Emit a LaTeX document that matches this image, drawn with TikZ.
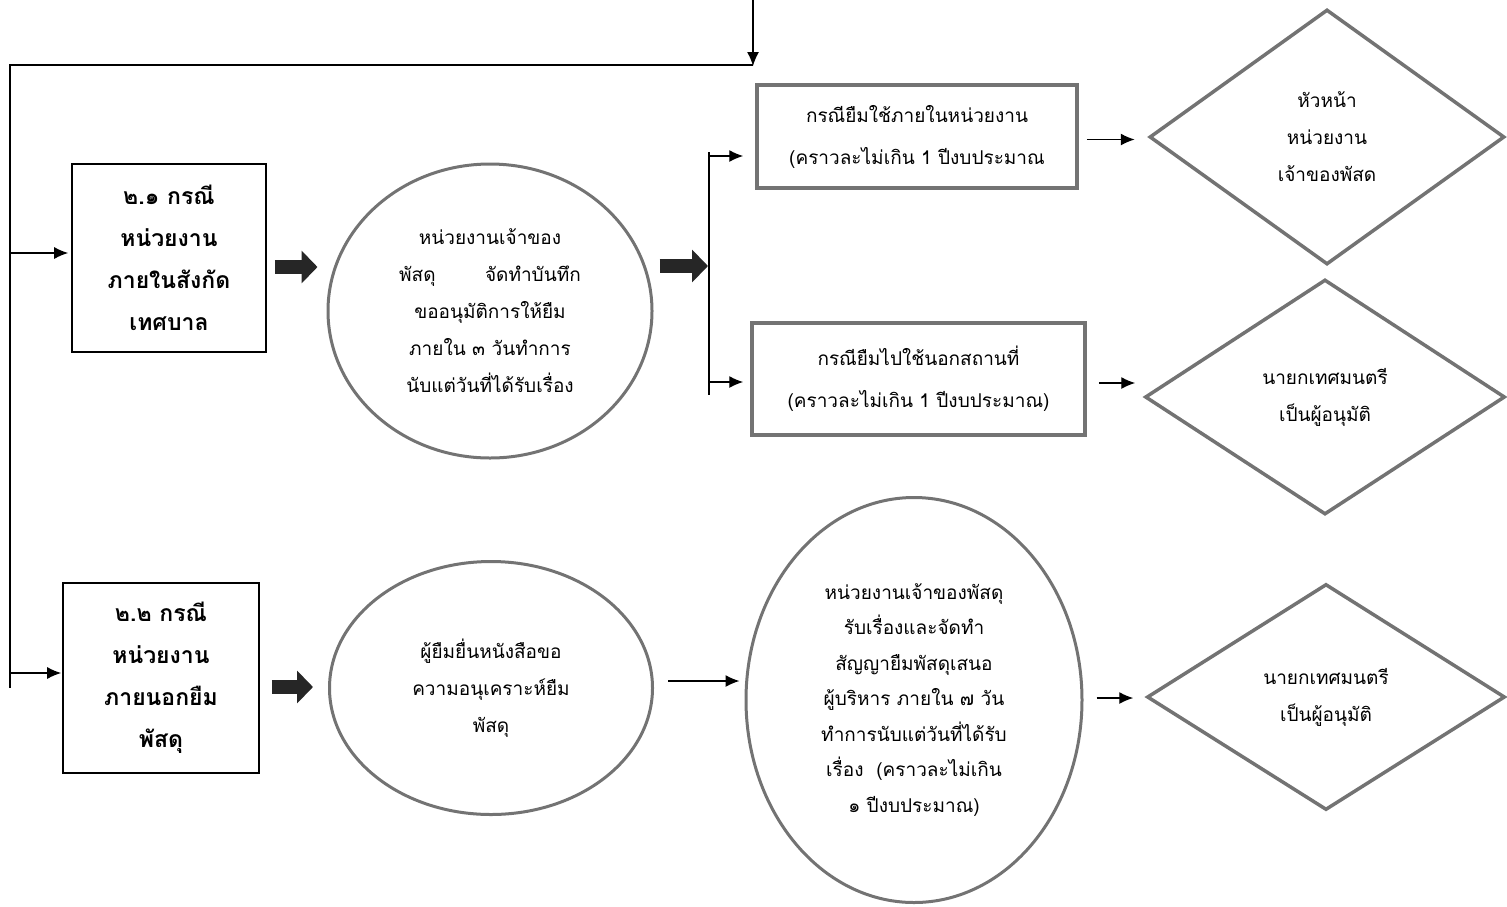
\documentclass[tikz,border=0pt]{standalone}
\usepackage{fontspec}
\newfontfamily\thaifont[Script=Thai]{Loma}
\usetikzlibrary{arrows.meta,shapes.geometric,positioning}

\tikzset{
  casebox/.style={draw,line width=1.6pt,inner sep=0pt,align=center,
    font=\thaifont\bfseries\fontsize{23}{42}\selectfont},
  stepoval/.style={ellipse,draw=black!55,line width=3pt,inner sep=0pt,align=center,
    font=\thaifont\fontsize{19}{37}\selectfont},
  notebox/.style={draw=black!55,line width=3.5pt,inner sep=0pt,align=center,
    font=\thaifont\fontsize{19}{42}\selectfont},
  approve/.style={diamond,draw=black!55,line width=3.5pt,inner sep=0pt,aspect=1.4,align=center,
    font=\thaifont\fontsize{19}{37}\selectfont},
  thinarrow/.style={line width=1.3pt,-{Latex[length=14pt,width=12pt]}},
  fatarrow/.style={line width=14pt,black!85,-{Triangle[length=16pt,width=32pt]}},
}

\begin{document}
\begin{tikzpicture}[x=1pt,y=-1pt]
      \useasboundingbox (0,0) rectangle (1507,906);
      % case boxes
      \node[casebox,minimum width=194pt,minimum height=188pt] (b21) at (169,258) {๒.๑ กรณี\\หน่วยงาน\\ภายในสังกัด\\เทศบาล};
      \node[casebox,minimum width=196pt,minimum height=190pt] (b22) at (161,678) {๒.๒ กรณี\\หน่วยงาน\\ภายนอกยืม\\พัสดุ};
      % ovals
      \node[stepoval,minimum width=324pt,minimum height=294pt] (c1) at (490,311) {หน่วยงานเจ้าของ\\พัสดุ\hspace{2.6em}จัดทำบันทึก\\ขออนุมัติการให้ยืม\\ภายใน ๓ วันทำการ\\นับแต่วันที่ได้รับเรื่อง};
      \node[stepoval,minimum width=323pt,minimum height=253pt] (c2) at (491,688) {ผู้ยืมยื่นหนังสือขอ\\ความอนุเคราะห์ยืม\\พัสดุ};
      \node[stepoval,minimum width=336pt,minimum height=405pt,font=\thaifont\fontsize{19}{35.5}\selectfont] (c3) at (914,700) {หน่วยงานเจ้าของพัสดุ\\รับเรื่องและจัดทำ\\สัญญายืมพัสดุเสนอ\\ผู้บริหาร ภายใน ๗ วัน\\ทำการนับแต่วันที่ได้รับ\\เรื่อง~ (คราวละไม่เกิน\\๑ ปีงบประมาณ)};
      % loan cases
      \node[notebox,minimum width=320pt,minimum height=103pt] (rA) at (917,136.5) {กรณียืมใช้ภายในหน่วยงาน\\(คราวละไม่เกิน 1 ปีงบประมาณ};
      \node[notebox,minimum width=333pt,minimum height=112pt] (rB) at (918.5,379) {กรณียืมไปใช้นอกสถานที่\\(คราวละไม่เกิน 1 ปีงบประมาณ)};
      % approvers
      \node[approve,minimum width=355pt,minimum height=255pt] (d1) at (1327,137) {หัวหน้า\\หน่วยงาน\\เจ้าของพัสด};
      \node[approve,minimum width=360pt,minimum height=235pt] (d2) at (1325,397) {นายกเทศมนตรี\\เป็นผู้อนุมัติ};
      \node[approve,minimum width=358pt,minimum height=226pt] (d3) at (1326,697) {นายกเทศมนตรี\\เป็นผู้อนุมัติ};
      % incoming line and left bar
      \coordinate (top) at (753,0);
      \coordinate (join) at (753,66);
      \coordinate (corner) at (10,65);
      \coordinate (barend) at (10,688);
      \coordinate (in21) at (10,253);
      \coordinate (in22) at (10,673);
      \draw[thinarrow] (top) -- (join);
      \draw[line width=1.3pt] (753,65) -- (corner) -- (barend);
      \draw[thinarrow,shorten >=3pt] (in21) -- (in21 -| b21.west);
      \draw[thinarrow,shorten >=1pt] (in22) -- (in22 -| b22.west);
      % fat arrows
      \draw[fatarrow,shorten <=8pt,shorten >=9pt] ([yshift=-9pt]b21.east) -- ([yshift=-9pt]b21.east -| c1.west);
      \draw[fatarrow,shorten <=12pt,shorten >=15pt] ([yshift=-9pt]b22.east) -- ([yshift=-9pt]b22.east -| c2.west);
      \coordinate (fork) at (709,266);
      \draw[fatarrow,shorten <=6pt,shorten >=1pt] (c1.east |- fork) -- (fork);
      % branch
      \coordinate (forkA) at (709,156);
      \coordinate (forkB) at (709,382);
      \draw[line width=1.3pt] (709,152) -- (709,395);
      \draw[thinarrow,shorten >=12pt] (forkA) -- (forkA -| rA.west);
      \draw[thinarrow,shorten >=7pt] (forkB) -- (forkB -| rB.west);
      % to approvers
      \draw[thinarrow,shorten <=8pt,shorten >=13pt] ([yshift=-3pt]rA.east) -- ([yshift=-3pt]rA.east -| d1.west);
      \draw[thinarrow,shorten <=12pt,shorten >=8pt] ([yshift=-4pt]rB.east) -- ([yshift=-4pt]rB.east -| d2.west);
      \draw[thinarrow,shorten <=14pt,shorten >=5pt] ([yshift=7pt]c2.east) -- ([yshift=7pt]c2.east -| c3.west);
      \draw[thinarrow,shorten <=13pt,shorten >=12pt] ([yshift=2pt]c3.east) -- ([yshift=2pt]c3.east -| d3.west);
    \end{tikzpicture}
\end{document}
